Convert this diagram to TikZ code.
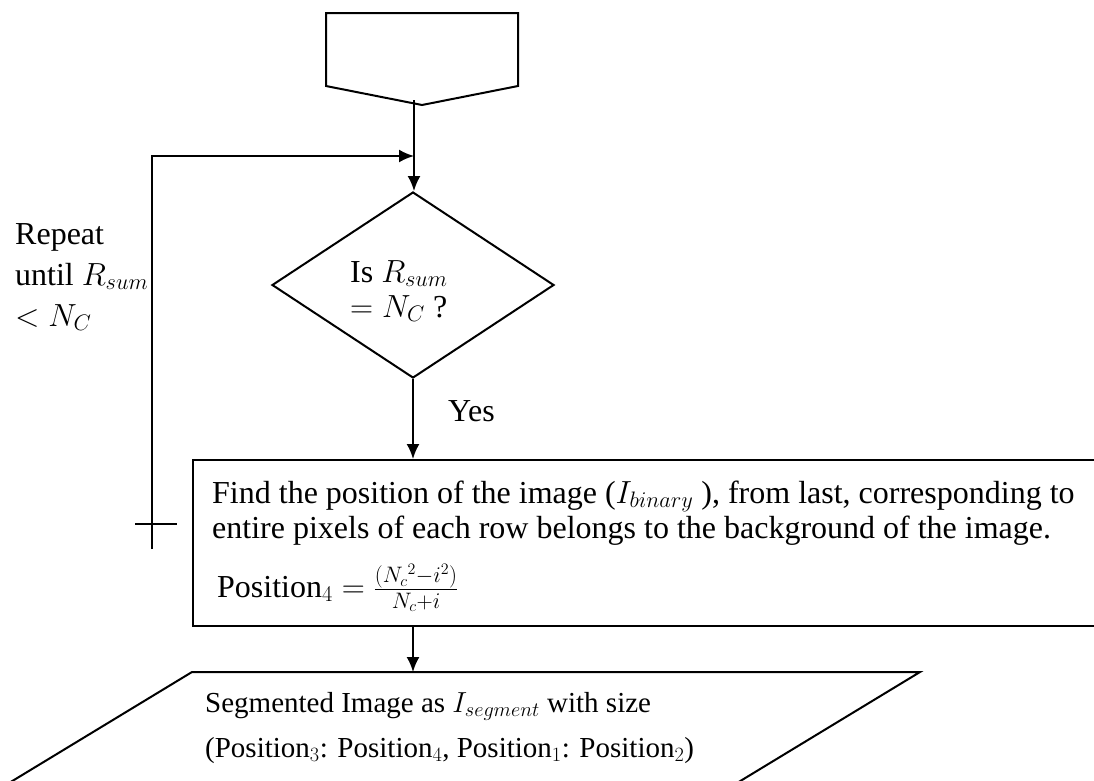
\documentclass[tikz,border=0pt]{standalone}
\usepackage{fix-cm}
\usepackage{fontspec}
\setmainfont{Liberation Serif}
\usetikzlibrary{arrows.meta,shapes.geometric}
\tikzset{
  ln/.style={line width=2pt},
  arr/.style={ln,-{Latex[length=15pt,width=13pt]}},
  txt/.style={inner sep=0pt,anchor=base west,font=\fontsize{32}{38}\selectfont},
  small/.style={inner sep=0pt,anchor=base west,font=\fontsize{29}{34}\selectfont},
}
\begin{document}
\begin{tikzpicture}[x=1pt,y=-1pt]
\useasboundingbox (0,0) rectangle (1094,780);
% off-page connector
\coordinate (tl) at (326,13);
\coordinate (tr) at (518,13);
\coordinate (rr) at (518,86);
\coordinate (tip) at (422,105);
\coordinate (ll) at (326,86);
\draw[ln,line join=miter] (tl) -- (tr) -- (rr) -- (tip) -- (ll) -- cycle;
\coordinate (tipout) at (414,100);
% decision
\node[draw,ln,diamond,minimum width=282pt,minimum height=186pt,inner sep=0pt] (dec) at (413,285) {};
\node[txt] (q1) at (350,282) {Is $R_{sum}$};
\node[txt] (q2) at (350,317) {$=N_C$ ?};
% merge point of loop
\coordinate (merge) at (414,156);
\draw[ln] (tipout) -- (merge);
\draw[arr] (merge) -- (dec.north -| merge);
% process box
\node[draw,ln,anchor=north west,minimum width=1000pt,minimum height=166pt,inner sep=0pt] (proc) at (192,459) {};
\node[txt] (p1) at (212,503) {Find the position of the image ($I_{binary}$ ), from last, corresponding to};
\node[txt] (p2) at (212,538) {entire pixels of each row belongs to the background of the image.};
\node[txt] (p3) at (217,597) {$\mathrm{Position}_4=\frac{(N_c{}^2-i^2)}{N_c+i}$};
\draw[arr] (dec.south) -- (dec.south |- proc.north);
\node[txt] (yes) at (448,421) {Yes};
% loop back
\coordinate (loopend) at (152,549);
\coordinate (tickl) at (135,524);
\coordinate (tickr) at (177,524);
\draw[ln] (tickl) -- (tickr);
\draw[arr] (loopend) |- (merge);
\node[txt,anchor=north west,align=left,font=\fontsize{32}{41}\selectfont] (rep) at (15,223) {Repeat\\until $R_{sum}$\\$<N_C$};
% output parallelogram
\coordinate (io1) at (192,672);
\coordinate (io2) at (920,672);
\coordinate (io3) at (709,800);
\coordinate (io4) at (-19,800);
\draw[ln,line join=miter] (io4) -- (io1) -- (io2) -- (io3);
\coordinate (iotop) at (413,672);
\draw[arr] (dec.south |- proc.south) -- (iotop);
\node[small] (s1) at (205,712) {Segmented Image as $I_{segment}$ with size};
\node[small] (s2) at (205,757) {(Position$_3$: Position$_4$, Position$_1$: Position$_2$)};
\end{tikzpicture}
\end{document}
